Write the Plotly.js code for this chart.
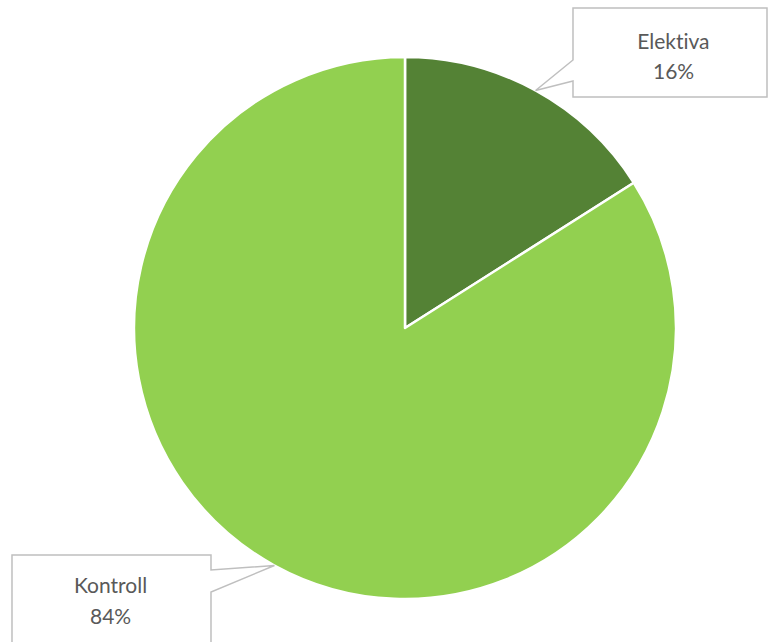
<!DOCTYPE html>
<html><head><meta charset="utf-8">
<script src="https://cdn.plot.ly/plotly-3.0.1.min.js"></script>
<style>html,body{margin:0;padding:0;background:#fff}#c{width:769px;height:642px}
#c text{font-variant-ligatures:none;font-feature-settings:"liga" 0}</style>
</head><body><div id="c"></div>
<script>
const labels = ["Elektiva", "Kontroll"];
const values = [16, 84];
const colors = ["#548235", "#92D050"];

const W = 769, H = 642;
const cx = 405, cy = 328, R = 271;
const px = x => x / W, py = y => 1 - y / H;

// callout boxes (pixel layout)
const boxes = [
  {x0: 573, y0: 8, x1: 767, y1: 97, side: "left", a: 60, b: 81, tx: 673, ty1: 40, ty2: 71},
  {x0: 12, y0: 555, x1: 211, y1: 660, side: "right", a: 570, b: 592, tx: 111, ty1: 584, ty2: 615}
];

// compute tips from data: middle of each slice on the rim
const total = values.reduce((s, v) => s + v, 0);
let acc = 0;
const tips = values.map(v => {
  const mid = (acc + v / 2) / total * 2 * Math.PI;
  acc += v;
  return [cx + R * Math.sin(mid), cy - R * Math.cos(mid)];
});

const shapes = [], annotations = [];
const font = {family: "Lato, 'Open Sans', sans-serif", size: 21, color: "#595959"};
boxes.forEach((b, i) => {
  const t = tips[i];
  let pts;
  if (b.side === "left") {
    pts = [[b.x0, b.y0], [b.x1, b.y0], [b.x1, b.y1], [b.x0, b.y1], [b.x0, b.b], t, [b.x0, b.a]];
  } else {
    pts = [[b.x0, b.y0], [b.x1, b.y0], [b.x1, b.a], t, [b.x1, b.b], [b.x1, b.y1], [b.x0, b.y1]];
  }
  const path = pts.map((p, k) => (k ? "L" : "M") + px(p[0]).toFixed(5) + "," + py(p[1]).toFixed(5)).join(" ") + " Z";
  shapes.push({type: "path", xref: "paper", yref: "paper", path: path,
    fillcolor: "#ffffff", line: {color: "#bfbfbf", width: 1.5}, layer: "above"});
  annotations.push({xref: "paper", yref: "paper", x: px(b.tx), y: py(b.ty1), text: labels[i],
    showarrow: false, xanchor: "center", yanchor: "middle", font: font});
  annotations.push({xref: "paper", yref: "paper", x: px(b.tx), y: py(b.ty2),
    text: Math.round(values[i] / total * 100) + "%",
    showarrow: false, xanchor: "center", yanchor: "middle", font: font});
});

const data = [{
  type: "pie", labels: labels, values: values, sort: false, direction: "clockwise", rotation: 0,
  marker: {colors: colors, line: {color: "#ffffff", width: 2.5}},
  textinfo: "none", hoverinfo: "none",
  domain: {x: [px(cx - R), px(cx + R)], y: [py(cy + R), py(cy - R)]}
}];

const layout = {
  width: W, height: H, margin: {l: 0, r: 0, t: 0, b: 0},
  paper_bgcolor: "#ffffff", showlegend: false,
  shapes: shapes, annotations: annotations
};
Plotly.newPlot("c", data, layout, {displayModeBar: false, staticPlot: true});
</script></body></html>
